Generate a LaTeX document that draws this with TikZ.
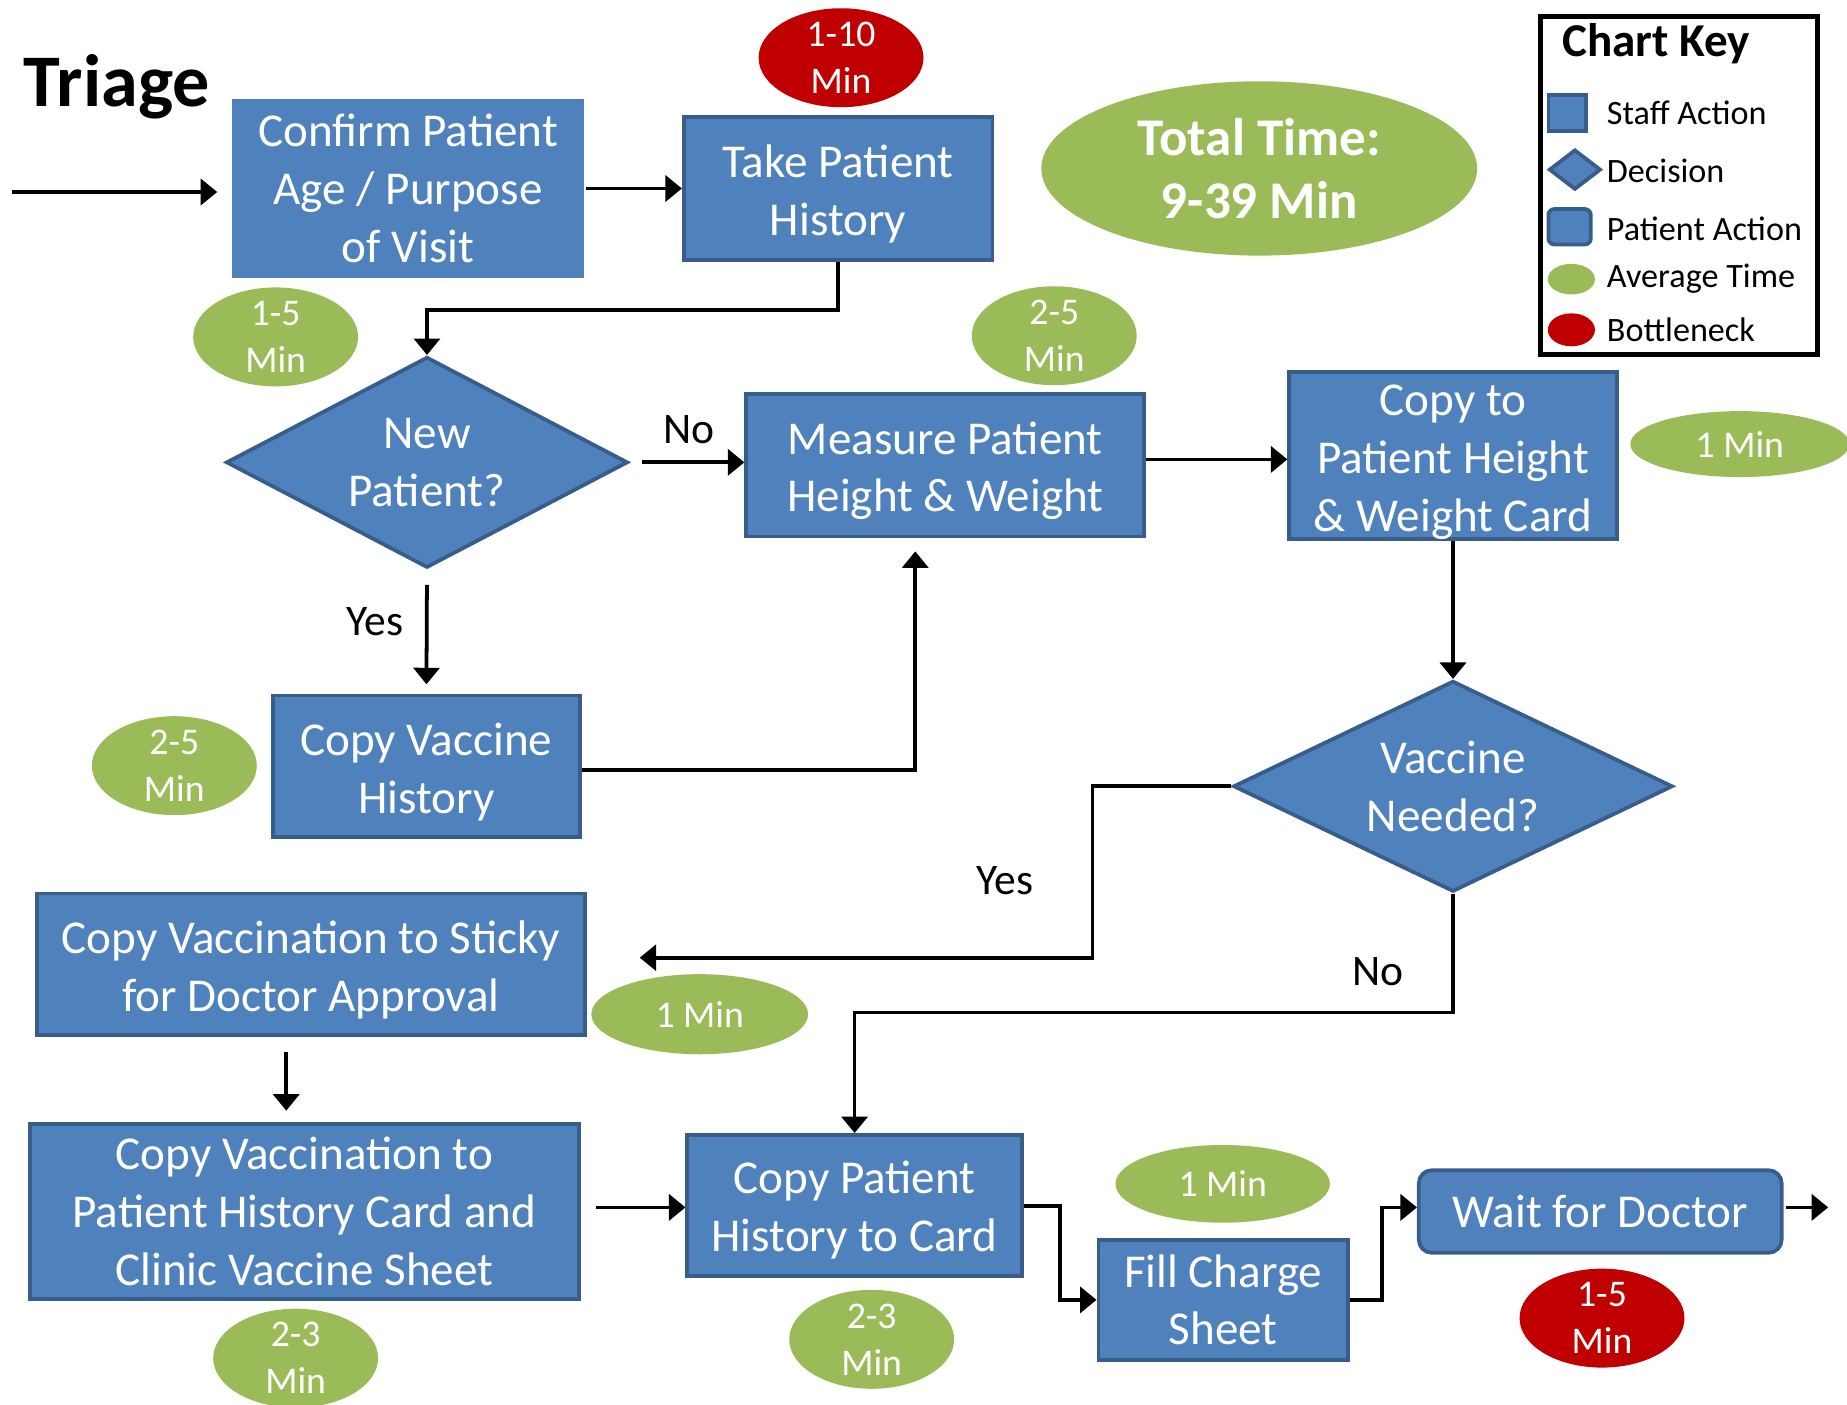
\documentclass[tikz,border=0pt]{standalone}
\usepackage{fontspec}
\setmainfont{Carlito}
\usetikzlibrary{shapes.geometric,arrows.meta,calc}
\definecolor{boxblue}{HTML}{4F81BD}
\definecolor{boxedge}{HTML}{385D8A}
\definecolor{avggreen}{HTML}{9BBB59}
\definecolor{bottlered}{HTML}{C00000}
\newcommand\boxfs{\fontsize{40}{49}\selectfont}
\newcommand\ellfs{\fontsize{32}{40}\selectfont}
\newcommand\labfs{\fontsize{37}{44}\selectfont}
\newcommand\keyfs{\fontsize{29}{34}\selectfont}
\newcommand\liftup{\rule{0pt}{37pt}}
\tikzset{
  staff/.style={rectangle, fill=boxblue, draw=boxedge, line width=3.2pt, text=white, align=center, font=\boxfs, inner sep=0pt},
  lifted/.style={staff, inner ysep=-6pt},
  plainstaff/.style={staff, draw=none},
  patient/.style={staff, rounded corners=11pt},
  decision/.style={diamond, fill=boxblue, draw=boxedge, line width=3.2pt, text=white, align=center, font=\boxfs, inner xsep=-60pt, inner ysep=-40pt},
  timeell/.style={ellipse, fill=avggreen, text=white, align=center, font=\ellfs, inner xsep=0pt, inner ysep=-30pt},
  bottleell/.style={timeell, fill=bottlered},
  totalell/.style={ellipse, fill=avggreen, text=white, align=center, font=\fontsize{45}{54}\selectfont\bfseries, inner xsep=0pt, inner ysep=-30pt},
  branch/.style={font=\labfs, text=black},
  arr/.style={line width=3.2pt, -{Triangle[length=14pt,width=22pt]}},
  keytext/.style={font=\keyfs, anchor=west, inner sep=0pt},
}
\begin{document}
\begin{tikzpicture}[x=1pt,y=-1pt]
\useasboundingbox (0,0) rectangle (1568,1192);

% title
\node[font=\fontsize{63}{72}\selectfont\bfseries, anchor=base west, inner sep=0pt] (title) at (20,90) {Triage};

% process boxes
\node[plainstaff, minimum width=299pt, minimum height=152pt] (confirm) at (346.5,160) {Confirm Patient\\Age / Purpose\\of Visit};
\node[lifted, minimum width=262pt, minimum height=121pt] (history) at (711.5,160) {\liftup Take Patient\\History};
\node[decision, minimum width=341pt, minimum height=179pt] (newpat) at (362.5,392.5) {New\\Patient?};
\node[lifted, minimum width=338pt, minimum height=121pt] (measure) at (802.5,395) {\liftup Measure Patient\\Height \& Weight};
\node[lifted, minimum width=278pt, minimum height=142pt] (copyto) at (1233.5,386.5) {\rule{0pt}{38pt}Copy to\\Patient Height\\\& Weight Card};
\node[lifted, minimum width=261pt, minimum height=120pt] (copyvac) at (362,650.5) {\liftup Copy Vaccine\\History};
\node[decision, minimum width=373pt, minimum height=179pt] (vacneed) at (1233.5,667.5) {Vaccine\\Needed?};
\node[lifted, minimum width=465pt, minimum height=120pt] (sticky) at (264,818.5) {\liftup Copy Vaccination to Sticky\\for Doctor Approval};
\node[staff, minimum width=466pt, minimum height=148pt] (clinic) at (258.5,1028.5) {Copy Vaccination to\\Patient History Card and\\Clinic Vaccine Sheet};
\node[lifted, minimum width=284pt, minimum height=120pt] (copypat) at (725.5,1023.5) {\rule{0pt}{35pt}Copy Patient\\History to Card};
\node[staff, minimum width=212pt, minimum height=102pt] (fill) at (1038.5,1103.5) {Fill Charge\\Sheet};
\node[patient, minimum width=308pt, minimum height=70pt] (wait) at (1358.5,1028.5) {Wait for Doctor};

% time ellipses
\node[bottleell, minimum width=140pt, minimum height=84pt] (t1) at (714,49) {1-10\\Min};
\node[totalell, minimum width=370pt, minimum height=148pt] (total) at (1069,143) {Total Time:\\9-39 Min};
\node[timeell, minimum width=140pt, minimum height=84pt] (t2) at (234,286) {1-5\\Min};
\node[timeell, minimum width=140pt, minimum height=84pt] (t3) at (895,285) {2-5\\Min};
\node[timeell, minimum width=186pt, minimum height=56pt] (t4) at (1477,377) {1 Min};
\node[timeell, minimum width=140pt, minimum height=84pt] (t5) at (148,650) {2-5\\Min};
\node[timeell, minimum width=184pt, minimum height=68pt] (t6) at (594,861) {1 Min};
\node[timeell, minimum width=140pt, minimum height=84pt] (t7) at (251,1153) {2-3\\Min};
\node[timeell, minimum width=140pt, minimum height=84pt] (t8) at (740,1137) {2-3\\Min};
\node[timeell, minimum width=182pt, minimum height=66pt] (t9) at (1038,1005) {1 Min};
\node[bottleell, minimum width=140pt, minimum height=84pt] (t10) at (1360,1119) {1-5\\Min};

% branch labels
\node[branch] (no1) at (585,365) {No};
\node[branch] (yes1) at (318,528) {Yes};
\node[branch] (yes2) at (853,748) {Yes};
\node[branch] (no2) at (1170,825) {No};

% connectors
\coordinate (start) at (10,163);
\coordinate (finish) at (1552,1025);
\draw[arr, shorten >=11pt] (start) -- (start -| confirm.west);
\draw[arr] (confirm.east) -- (history.west);
\draw[arr] (history.south) -- ++(0,41) -| (newpat.north);
\draw[arr, shorten <=10pt] (newpat.east) -- (newpat.east -| measure.west);
\draw[arr, shorten <=13pt, shorten >=8pt] (newpat.south) -- (copyvac.north);
\draw[arr, shorten >=11pt] ([yshift=-3.5pt]copyvac.east) -| ([xshift=-25.5pt]measure.south);
\draw[arr] ([yshift=5pt]measure.east) -- ([yshift=5pt]measure.east -| copyto.west);
\draw[arr] (copyto.south) -- (vacneed.north);
\draw[arr] (vacneed.west) -- ++(-118,0) |- ([xshift=45pt,yshift=5.5pt]sticky.east);
\draw[arr] (vacneed.south) -- ++(0,101) -| (copypat.north);
\draw[arr, shorten <=13pt, shorten >=10pt] ([xshift=-21pt]sticky.south) -- ([xshift=-21pt]sticky.south |- clinic.north);
\draw[arr, shorten <=13pt] ([yshift=3.5pt]clinic.east) -- ([yshift=3.5pt]clinic.east -| copypat.west);
\draw[arr] (copypat.east) -- ++(31,0) |- (fill.west);
\draw[arr] (fill.east) -- ++(27,0) |- ([yshift=3.5pt]wait.west);
\draw[arr, shorten <=2pt] ([yshift=3.5pt]wait.east) -- (finish);

% chart key
\node[draw=black, line width=4pt, minimum width=235pt, minimum height=287pt, inner sep=0pt] (keybox) at (1425.5,157.5) {};
\node[font=\fontsize{40}{46}\selectfont\bfseries] (keytitle) at (1406,37) {Chart Key};
\node[staff, minimum width=32pt, minimum height=31pt] (kstaff) at (1330.5,96) {};
\node[decision, inner sep=0pt, minimum width=44pt, minimum height=34pt] (kdec) at (1337,144) {};
\node[staff, rounded corners=5pt, minimum width=36pt, minimum height=30pt] (kpat) at (1332.5,192.5) {};
\node[ellipse, fill=avggreen, minimum width=40pt, minimum height=26pt, inner sep=0pt] (kavg) at (1334,237) {};
\node[ellipse, fill=bottlered, minimum width=40pt, minimum height=28pt, inner sep=0pt] (kbot) at (1334,280) {};
\node[keytext] (lstaff) at (1364,96) {Staff Action};
\node[keytext] (ldec) at (1364,145) {Decision};
\node[keytext] (lpat) at (1364,194) {Patient Action};
\node[keytext] (lavg) at (1364,237) {Average Time};
\node[keytext] (lbot) at (1364,280) {Bottleneck};
\end{tikzpicture}
\end{document}
